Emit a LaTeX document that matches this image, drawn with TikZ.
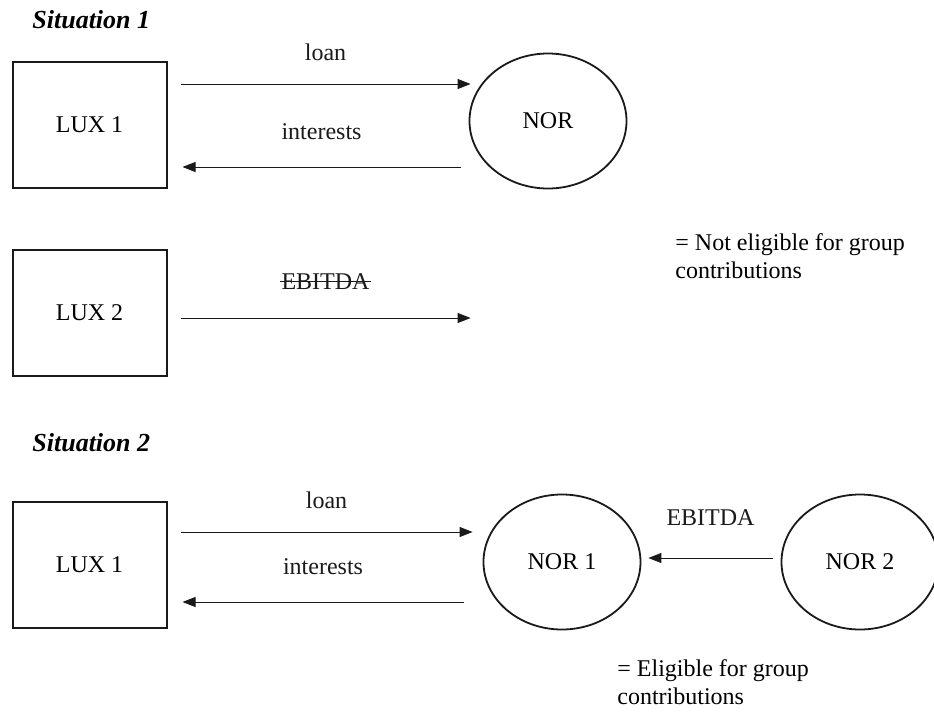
\documentclass[tikz,border=0pt]{standalone}
\usepackage{fontspec}
\setmainfont{Liberation Serif}
\usetikzlibrary{arrows.meta,positioning,calc,shapes.geometric}
\definecolor{InkGrey}{HTML}{1A1A1A}

\begin{document}
\begin{tikzpicture}[x=0.5pt,y=-0.5pt,
		entity/.style={draw=InkGrey,line width=1pt,minimum width=77pt,minimum height=63pt,font=\fontsize{12}{14}\selectfont},
		party/.style={draw=InkGrey,ellipse,line width=0.9pt,minimum width=78.5pt,minimum height=67.5pt,font=\fontsize{12}{14}\selectfont},
		flow/.style={InkGrey,line width=0.5pt,-{Triangle[length=6.5pt,width=5pt]}},
		lbl/.style={font=\fontsize{12}{14}\selectfont},
		heading/.style={font=\fontsize{13}{15}\selectfont\bfseries\itshape,anchor=base west,inner sep=0pt},
		note/.style={font=\fontsize{12}{14}\selectfont,align=left,anchor=north west,inner sep=0pt}]
		\useasboundingbox[fill=white] (0,0) rectangle (934,713);
		% situation 1
		\node[heading] (sit1) at (32,28) {Situation 1};
		\node[entity] (lux1a) at (89.5,125) {LUX 1};
		\node[party] (nor) at (548,121) {NOR};
		\node[entity] (lux2) at (89.5,313) {LUX 2};
		\draw[flow] ($(lux1a.east)+(13,-41)$) -- ($(nor.west)+(2,-37)$) node[lbl,midway,above=8pt] (loan1) {loan};
		\draw[flow] ($(nor.west)+(-8,46)$) -- ($(lux1a.east)+(15,42)$) node[lbl,midway,above=10pt] (int1) {interests};
		\draw[flow] ($(lux2.east)+(13,5)$) -- ($(nor.west |- lux2.east)+(2,5)$) node[lbl,midway,above=10.5pt] (ebitda1) {EBITDA};
		\draw[InkGrey,line width=0.6pt,shorten <=2.8pt,shorten >=2.8pt] (ebitda1.west) -- (ebitda1.east);
		\node[note] (noelig) at (675,233) {= Not eligible for group\\contributions};
		% situation 2
		\node[heading] (sit2) at (32,451) {Situation 2};
		\node[entity] (lux1b) at (89.5,565) {LUX 1};
		\node[party] (nor1) at (562,562) {NOR 1};
		\node[party] (nor2) at (860,562) {NOR 2};
		\draw[flow] ($(lux1b.east)+(13,-33)$) -- ($(nor1.west)+(-10,-30)$) node[lbl,midway,above=8pt] (loan2) {loan};
		\draw[flow] ($(nor1.west)+(-19,40)$) -- ($(lux1b.east)+(15,37)$) node[lbl,midway,above=10pt] (int2) {interests};
		\draw[flow] ($(nor2.west)+(-8,-4)$) -- ($(nor1.east)+(7,-4)$) node[lbl,midway,above=12.5pt] (ebitda2) {EBITDA};
		\node[note] (elig) at (617,659) {= Eligible for group\\contributions};
	\end{tikzpicture}
\end{document}
